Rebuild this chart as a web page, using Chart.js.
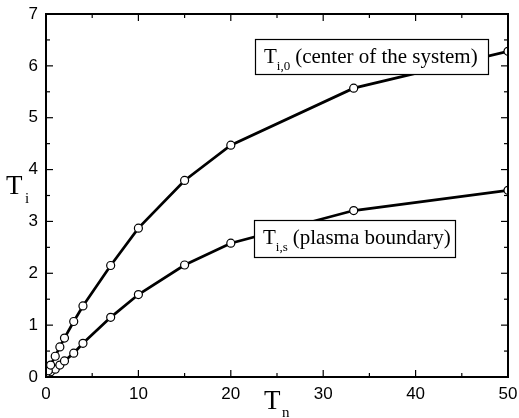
<!DOCTYPE html>
<html>
<head>
<meta charset="utf-8">
<script src="https://cdn.jsdelivr.net/npm/chart.js@4.4.1/dist/chart.umd.min.js"></script>
<style>
html,body{margin:0;padding:0;background:#fff;}
#wrap{width:519px;height:418px;position:relative;}
</style>
</head>
<body>
<div id="wrap"><canvas id="c" width="519" height="418"></canvas></div>
<script>
const tn = [0, 0.25, 0.5, 1, 1.5, 2, 3, 4, 7, 10, 15, 20, 33.3, 50];
const tiCenter = [0, 0.12, 0.23, 0.40, 0.58, 0.75, 1.07, 1.37, 2.15, 2.87, 3.79, 4.47, 5.57, 6.28];
const tiBoundary = [0, 0.04, 0.10, 0.15, 0.23, 0.31, 0.46, 0.65, 1.15, 1.59, 2.16, 2.58, 3.21, 3.60];
const xTicks = [0, 10, 20, 30, 40, 50];
const yTicks = [0, 1, 2, 3, 4, 5, 6, 7];
const xMinor = [5, 15, 25, 35, 45];
const yMinor = [0.5, 1.5, 2.5, 3.5, 4.5, 5.5, 6.5];

const toPts = (xs, ys) => xs.map((x, i) => ({x: x, y: ys[i]}));

const ds = (label, data) => ({
  label, data, showLine: true,
  borderColor: '#000', borderWidth: 2.7,
  pointRadius: 4, pointBorderWidth: 1.2,
  pointBackgroundColor: '#fff', pointBorderColor: '#000',
  clip: 0, tension: 0
});

const tickPlugin = {
  id: 'ticksInside',
  beforeDatasetsDraw(chart) {
    const ctx = chart.ctx, a = chart.chartArea;
    ctx.save();
    ctx.beginPath();
    ctx.rect(a.left, a.top, a.right - a.left, a.bottom - a.top);
    ctx.clip();
  },
  afterDatasetsDraw(chart) {
    const ctx = chart.ctx, a = chart.chartArea;
    ctx.restore();
    const xs = chart.scales.x, ys = chart.scales.y;
    ctx.save();
    ctx.strokeStyle = '#000';
    ctx.lineWidth = 1.2;
    const tick = (x1, y1, x2, y2) => { ctx.beginPath(); ctx.moveTo(x1, y1); ctx.lineTo(x2, y2); ctx.stroke(); };
    xTicks.forEach(v => { const p = xs.getPixelForValue(v); tick(p, a.bottom, p, a.bottom - 7); tick(p, a.top, p, a.top + 7); });
    xMinor.forEach(v => { const p = xs.getPixelForValue(v); tick(p, a.bottom, p, a.bottom - 4); tick(p, a.top, p, a.top + 4); });
    yTicks.forEach(v => { const p = ys.getPixelForValue(v); tick(a.left, p, a.left + 7, p); tick(a.right, p, a.right - 7, p); });
    yMinor.forEach(v => { const p = ys.getPixelForValue(v); tick(a.left, p, a.left + 4, p); tick(a.right, p, a.right - 4, p); });
    ctx.lineWidth = 2;
    ctx.strokeRect(a.left, a.top, a.right - a.left, a.bottom - a.top);

    // annotation boxes
    const box = (x, y, w, h, sub, text) => {
      ctx.fillStyle = '#fff';
      ctx.fillRect(x, y, w, h);
      ctx.lineWidth = 1.2;
      ctx.strokeStyle = '#000';
      ctx.strokeRect(x + 0.5, y + 0.5, w, h);
      ctx.fillStyle = '#000';
      ctx.textBaseline = 'alphabetic';
      ctx.textAlign = 'left';
      ctx.font = '21px "Liberation Serif", "Times New Roman", serif';
      const bx = x + 9, by = y + 24;
      ctx.fillText('T', bx, by);
      const tw = ctx.measureText('T').width;
      ctx.font = '13px "Liberation Serif", "Times New Roman", serif';
      ctx.fillText(sub, bx + tw, by + 7);
      const sw = ctx.measureText(sub).width;
      ctx.font = '21px "Liberation Serif", "Times New Roman", serif';
      ctx.fillText(text, bx + tw + sw + 5, by);
    };
    box(255, 39, 233, 35, 'i,0', '(center of the system)');
    box(254, 220, 201, 37, 'i,s', '(plasma boundary)');

    // axis titles
    ctx.fillStyle = '#000';
    ctx.font = '27px "Liberation Serif", "Times New Roman", serif';
    ctx.fillText('T', 6, 194);
    ctx.font = '15px "Liberation Serif", "Times New Roman", serif';
    ctx.fillText('i', 25, 203);
    ctx.font = '27px "Liberation Serif", "Times New Roman", serif';
    ctx.fillText('T', 264, 409);
    ctx.font = '15px "Liberation Serif", "Times New Roman", serif';
    ctx.fillText('n', 282, 417);
    ctx.restore();
  }
};

new Chart(document.getElementById('c'), {
  type: 'scatter',
  data: { datasets: [ds('Ti,0 (center of the system)', toPts(tn, tiCenter)), ds('Ti,s (plasma boundary)', toPts(tn, tiBoundary))] },
  options: {
    responsive: false, animation: false,
    devicePixelRatio: 1,
    layout: { padding: { top: 14, right: 11, left: 0, bottom: 0 } },
    plugins: { legend: { display: false }, tooltip: { enabled: false } },
    scales: {
      x: {
        type: 'linear', min: 0, max: 50,
        afterBuildTicks: s => { s.ticks = xTicks.map(v => ({value: v})); },
        afterFit: s => { s.height = 41; s.paddingLeft = 0; s.paddingRight = 0; },
        grid: { display: false, drawTicks: false },
        border: { display: false },
        ticks: { color: '#000', padding: 7, font: { family: '"Liberation Sans", Arial, sans-serif', size: 17 }, maxRotation: 0 }
      },
      y: {
        type: 'linear', min: 0, max: 7,
        afterBuildTicks: s => { s.ticks = yTicks.map(v => ({value: v})); },
        afterFit: s => { s.width = 46; s.paddingTop = 0; s.paddingBottom = 0; },
        grid: { display: false, drawTicks: false },
        border: { display: false },
        ticks: { color: '#000', padding: 8, font: { family: '"Liberation Sans", Arial, sans-serif', size: 17 } }
      }
    }
  },
  plugins: [tickPlugin]
});
</script>
</body>
</html>
